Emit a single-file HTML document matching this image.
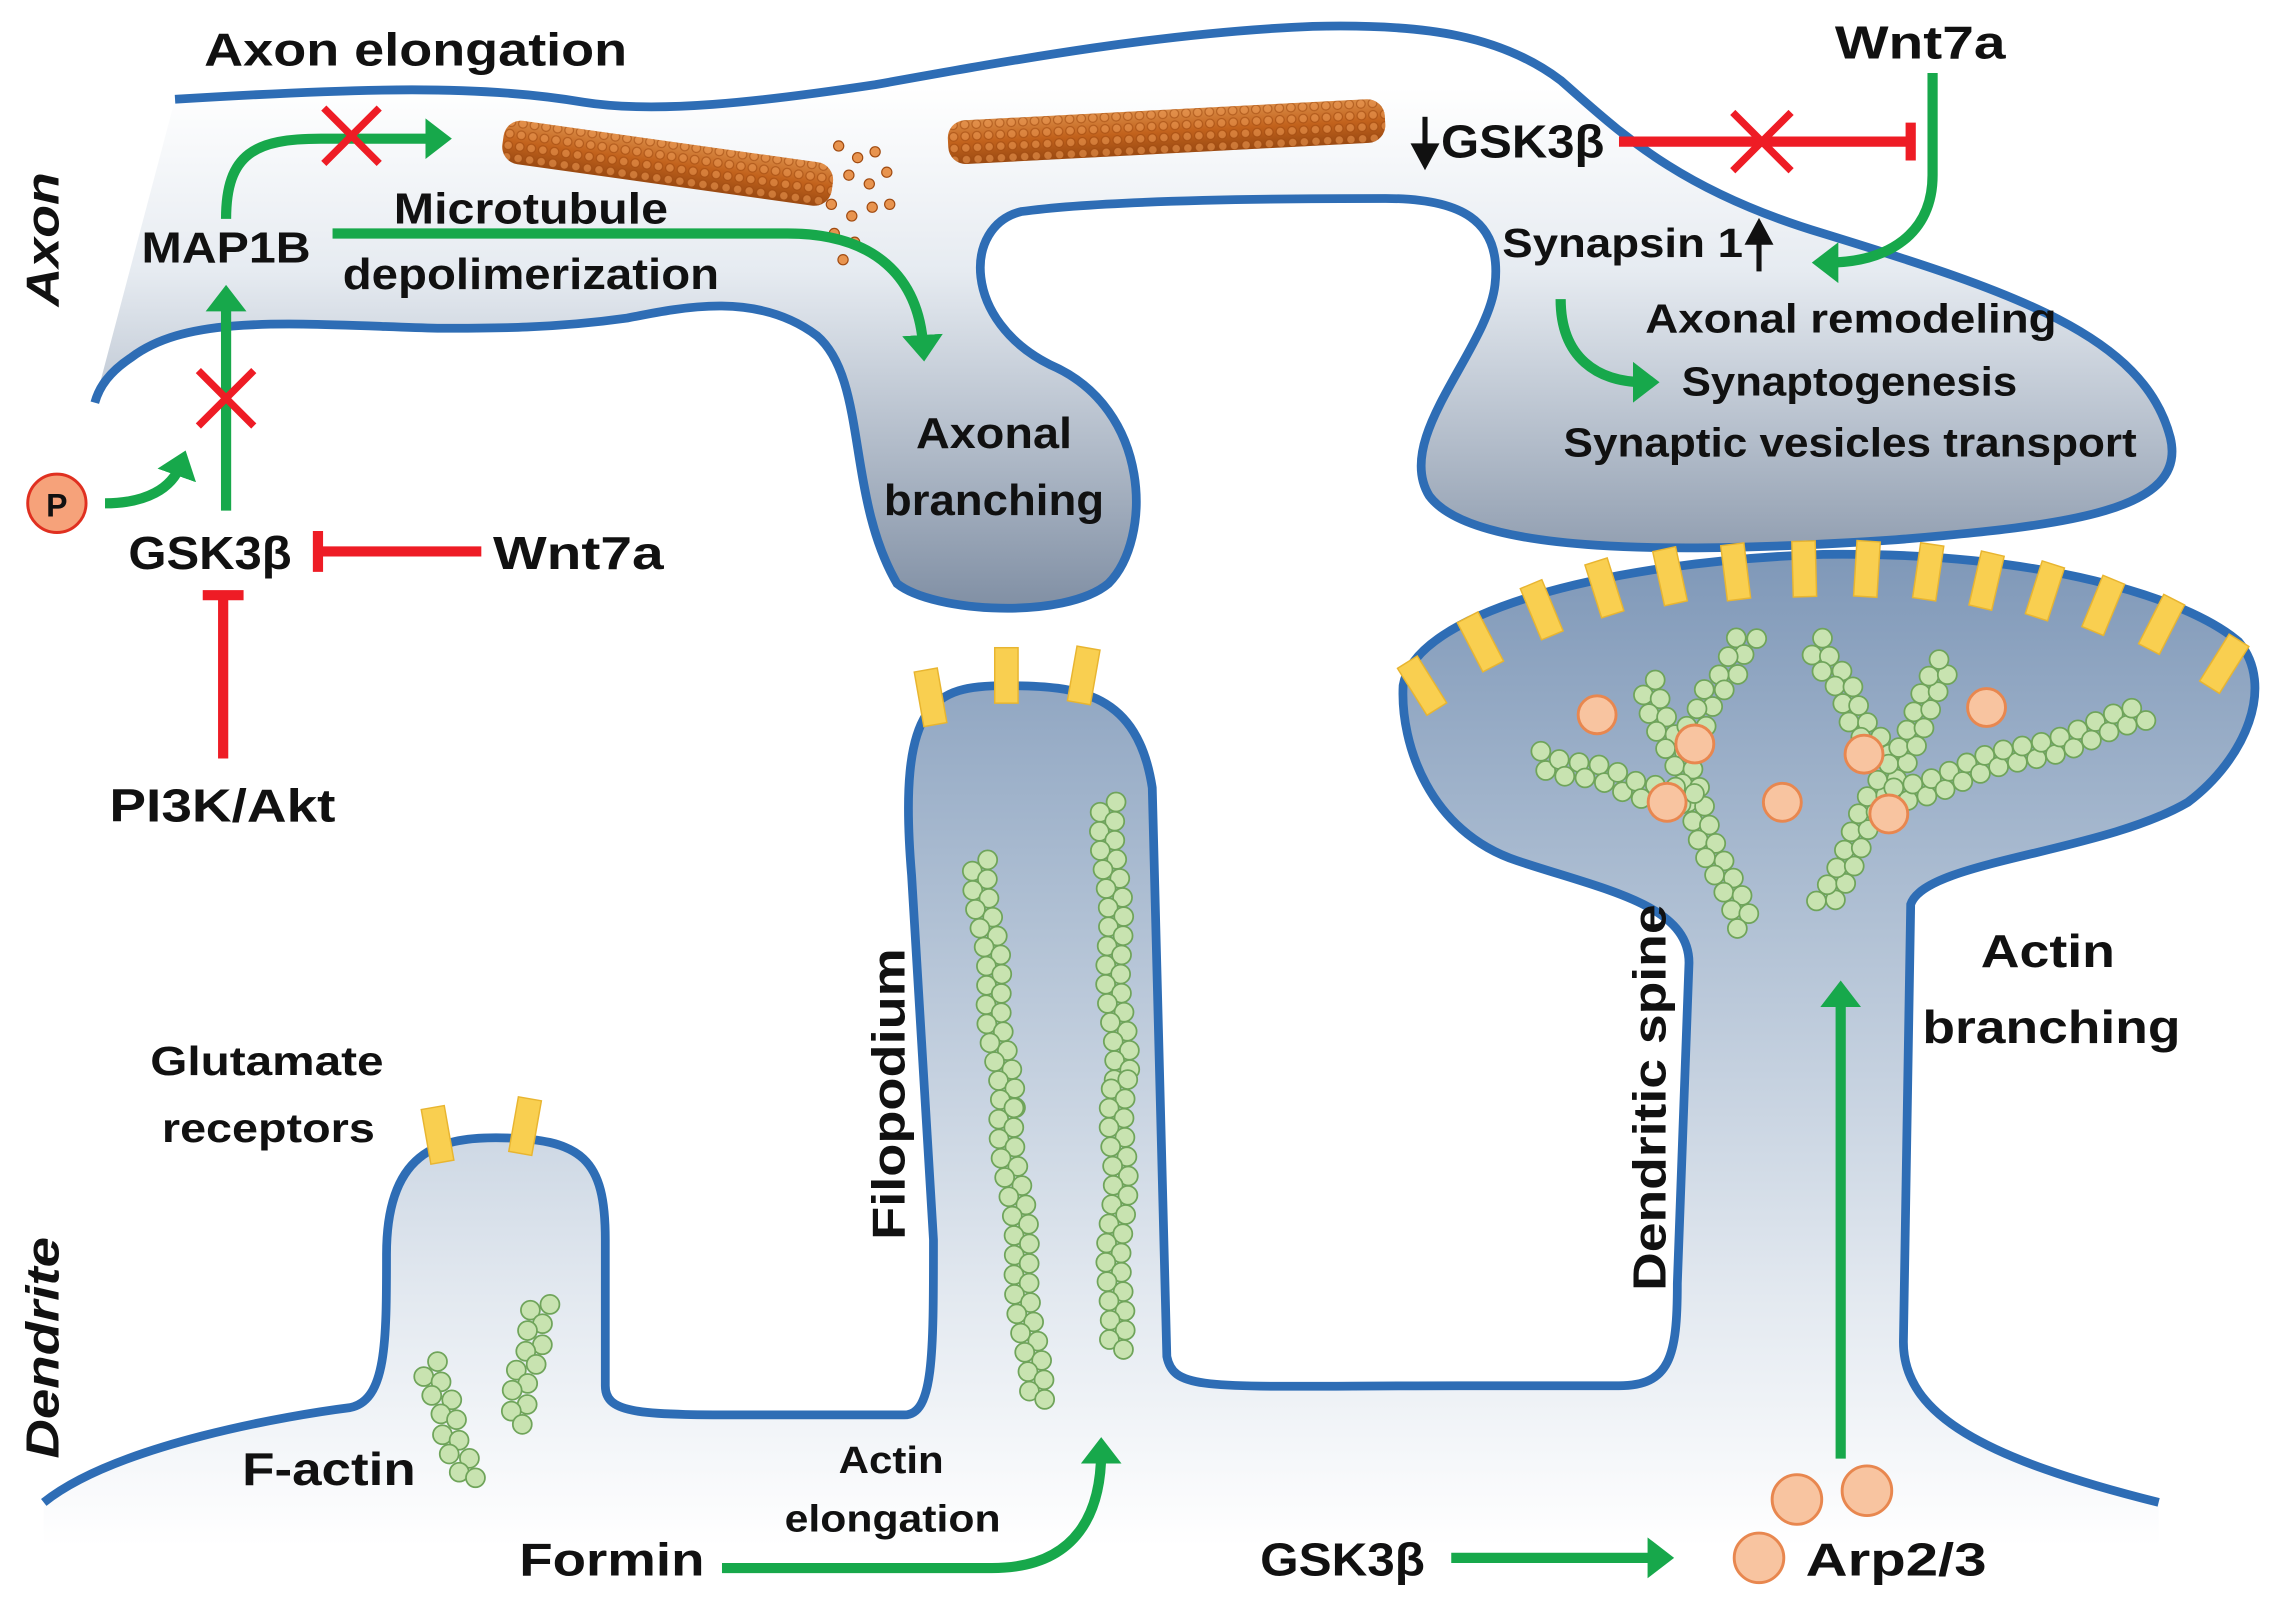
<!DOCTYPE html>
<html><head><meta charset="utf-8"><style>
html,body{margin:0;padding:0;background:#fff}
svg{display:block}
text{font-family:"Liberation Sans","DejaVu Sans",sans-serif;font-weight:bold;fill:#111}
</style></head><body>
<svg id="s" width="2287" height="1609" viewBox="0 0 1568 1103" xmlns="http://www.w3.org/2000/svg">
<defs>
<linearGradient id="ga" x1="0" y1="60" x2="0" y2="420" gradientUnits="userSpaceOnUse">
<stop offset="0" stop-color="#ffffff"/><stop offset="0.35" stop-color="#e6ebf1"/><stop offset="1" stop-color="#7f8ea3"/></linearGradient>
<linearGradient id="gd" x1="0" y1="380" x2="0" y2="1060" gradientUnits="userSpaceOnUse">
<stop offset="0" stop-color="#7f98b8"/><stop offset="0.3" stop-color="#a7b9cf"/><stop offset="0.75" stop-color="#e3e9f0"/><stop offset="1" stop-color="#ffffff"/></linearGradient>
<linearGradient id="gm" x1="0" y1="0" x2="0" y2="1">
<stop offset="0" stop-color="#d98a45"/><stop offset="0.5" stop-color="#c2621c"/><stop offset="1" stop-color="#9a4a12"/></linearGradient>
<pattern id="pm" width="8" height="8" patternUnits="userSpaceOnUse"><circle cx="4" cy="4" r="3" fill="#e8944f" stroke="#a04a10" stroke-width="0.8"/></pattern>
<marker id="ag" markerWidth="4" markerHeight="4" refX="1.2" refY="2" orient="auto" markerUnits="strokeWidth"><path d="M0,0 L2.6,2 L0,4 Z" fill="#17a84b"/></marker>
</defs>
<path id="ax" d="M120,68 C250,60 330,58 400,70 C450,78 520,70 600,58 C700,40 800,22 900,18 C980,16 1030,25 1070,55 C1110,90 1150,130 1250,160 C1380,200 1470,230 1488,300 C1500,350 1420,360 1300,370 C1150,380 1010,380 980,340 C955,300 1020,240 1025,195 C1030,150 1000,136 950,136 C850,136 750,138 700,145 C660,155 660,220 720,250 C790,280 790,370 760,400 C730,425 640,420 615,400 C580,340 595,260 560,230 C520,200 470,210 430,218 C380,225 340,225 300,225 C200,222 130,215 90,245 C75,255 68,265 65,276 Z" fill="url(#ga)"/>
<path d="M120,68 C250,60 330,58 400,70 C450,78 520,70 600,58 C700,40 800,22 900,18 C980,16 1030,25 1070,55 C1110,90 1150,130 1250,160 C1380,200 1470,230 1488,300 C1500,350 1420,360 1300,370 C1150,380 1010,380 980,340 C955,300 1020,240 1025,195 C1030,150 1000,136 950,136 C850,136 750,138 700,145 C660,155 660,220 720,250 C790,280 790,370 760,400 C730,425 640,420 615,400 C580,340 595,260 560,230 C520,200 470,210 430,218 C380,225 340,225 300,225 C200,222 130,215 90,245 C75,255 68,265 65,276" fill="none" stroke="#2e6db5" stroke-width="6"/>
<path d="M30,1030 C80,990 200,970 240,965 C265,960 265,920 265,860 C265,790 300,780 340,780 C400,780 415,795 415,850 L415,950 C415,970 440,970 520,970 L620,970 C640,970 640,930 640,850 L625,600 C615,480 640,470 690,470 C740,470 780,475 790,540 L800,930 C805,955 830,950 1000,950 L1110,950 C1145,950 1150,930 1150,880 L1158,660 C1158,620 1100,610 1040,590 C980,570 960,510 962,470 C970,420 1100,385 1250,380 C1400,378 1500,410 1535,440 C1560,470 1540,520 1500,550 C1440,585 1320,590 1310,620 L1305,920 C1305,970 1360,1000 1480,1030 L1480,1100 L30,1100 Z" fill="url(#gd)"/>
<path d="M30,1030 C80,990 200,970 240,965 C265,960 265,920 265,860 C265,790 300,780 340,780 C400,780 415,795 415,850 L415,950 C415,970 440,970 520,970 L620,970 C640,970 640,930 640,850 L625,600 C615,480 640,470 690,470 C740,470 780,475 790,540 L800,930 C805,955 830,950 1000,950 L1110,950 C1145,950 1150,930 1150,880 L1158,660 C1158,620 1100,610 1040,590 C980,570 960,510 962,470 C970,420 1100,385 1250,380 C1400,378 1500,410 1535,440 C1560,470 1540,520 1500,550 C1440,585 1320,590 1310,620 L1305,920 C1305,970 1360,1000 1480,1030" fill="none" stroke="#2e6db5" stroke-width="6"/>
<g id="rec" fill="#f9cf50" stroke="#e8b530" stroke-width="1"></g>
<g transform="translate(345,95) rotate(8)"><rect x="0" y="-14" width="228" height="30" rx="12" fill="url(#gm)"/><rect x="0" y="-14" width="228" height="30" rx="12" fill="url(#pm)" opacity="0.6"/></g>
<g transform="translate(650,98) rotate(-3)"><rect x="0" y="-15" width="300" height="30" rx="12" fill="url(#gm)"/><rect x="0" y="-15" width="300" height="30" rx="12" fill="url(#pm)" opacity="0.6"/></g>
<g id="dots" fill="#e8944f" stroke="#a04a10" stroke-width="0.8"></g>
<g id="actin" fill="#c8e3b0" stroke="#6fa45a" stroke-width="1.2"></g>
<g fill="#f8c4a0" stroke="#e8874f" stroke-width="2">
<circle cx="1095" cy="490" r="13"/><circle cx="1162" cy="510" r="13"/><circle cx="1143" cy="550" r="13"/><circle cx="1222" cy="550" r="13"/><circle cx="1278" cy="517" r="13"/><circle cx="1295" cy="558" r="13"/><circle cx="1362" cy="485" r="13"/>
<circle cx="1232" cy="1028" r="17"/><circle cx="1280" cy="1022" r="17"/><circle cx="1206" cy="1068" r="17"/>
<circle cx="39" cy="345" r="20" fill="#f6a27a" stroke="#e03020"/>
</g>
<text x="39" y="354" font-size="22" text-anchor="middle">P</text>
<g fill="none" stroke="#17a84b" stroke-width="7" marker-end="url(#ag)">
<path d="M155,150 C155,105 175,95 220,95 L300,95"/>
<path d="M155,350 L155,205"/>
<path d="M72,345 C100,345 118,335 124,318"/>
<path d="M228,160 L540,160 C600,160 630,190 633,238"/>
<path d="M1325,50 L1325,120 C1325,160 1295,180 1252,180"/>
<path d="M1070,205 C1070,245 1095,262 1128,262"/>
<path d="M495,1075 L680,1075 C740,1075 755,1035 755,995"/>
<path d="M995,1068 L1138,1068"/>
<path d="M1262,1000 L1262,682"/>
</g>
<g stroke="#ee1c25" stroke-width="7" fill="none">
<path d="M330,378 L220,378 M218,364 L218,392"/>
<path d="M153,520 L153,410 M139,408 L167,408"/>
<path d="M1110,97 L1310,97 M1310,84 L1310,110"/>
</g>
<g stroke="#ee1c25" stroke-width="5">
<path d="M1188,77 L1228,117 M1228,77 L1188,117"/>
<path d="M222,74 L260,112 M260,74 L222,112"/>
<path d="M136,254 L174,292 M174,254 L136,292"/>
</g>
<g stroke="#111" stroke-width="3.5" fill="#111">
<path d="M977,80 L977,106"/><path d="M970,100 L977,113 L984,100 Z"/>
<path d="M1206,186 L1206,160"/><path d="M1199,166 L1206,153 L1213,166 Z"/>
</g>
<g>
<text x="140" y="45" font-size="32" textLength="290" lengthAdjust="spacingAndGlyphs">Axon elongation</text>
<text x="1258" y="40" font-size="32" textLength="117" lengthAdjust="spacingAndGlyphs">Wnt7a</text>
<text x="988" y="108" font-size="32" textLength="112" lengthAdjust="spacingAndGlyphs">GSK3β</text>
<text x="1030" y="176" font-size="28" textLength="165" lengthAdjust="spacingAndGlyphs">Synapsin 1</text>
<text x="1128" y="228" font-size="28" textLength="282" lengthAdjust="spacingAndGlyphs">Axonal remodeling</text>
<text x="1153" y="271" font-size="28" textLength="230" lengthAdjust="spacingAndGlyphs">Synaptogenesis</text>
<text x="1072" y="313" font-size="28" textLength="393" lengthAdjust="spacingAndGlyphs">Synaptic vesicles transport</text>
<text x="270" y="153" font-size="30" textLength="188" lengthAdjust="spacingAndGlyphs">Microtubule</text>
<text x="235" y="198" font-size="30" textLength="258" lengthAdjust="spacingAndGlyphs">depolimerization</text>
<text x="97" y="180" font-size="30" textLength="116" lengthAdjust="spacingAndGlyphs">MAP1B</text>
<text x="628" y="307" font-size="30" textLength="107" lengthAdjust="spacingAndGlyphs">Axonal</text>
<text x="606" y="353" font-size="30" textLength="151" lengthAdjust="spacingAndGlyphs">branching</text>
<text x="88" y="390" font-size="32" textLength="112" lengthAdjust="spacingAndGlyphs">GSK3β</text>
<text x="338" y="390" font-size="32" textLength="117" lengthAdjust="spacingAndGlyphs">Wnt7a</text>
<text x="75" y="563" font-size="32" textLength="155" lengthAdjust="spacingAndGlyphs">PI3K/Akt</text>
<text x="103" y="737" font-size="28" textLength="160" lengthAdjust="spacingAndGlyphs">Glutamate</text>
<text x="111" y="783" font-size="28" textLength="146" lengthAdjust="spacingAndGlyphs">receptors</text>
<text x="166" y="1018" font-size="32" textLength="119" lengthAdjust="spacingAndGlyphs">F-actin</text>
<text x="575" y="1010" font-size="26" textLength="72" lengthAdjust="spacingAndGlyphs">Actin</text>
<text x="538" y="1050" font-size="26" textLength="148" lengthAdjust="spacingAndGlyphs">elongation</text>
<text x="356" y="1080" font-size="32" textLength="127" lengthAdjust="spacingAndGlyphs">Formin</text>
<text x="864" y="1080" font-size="32" textLength="113" lengthAdjust="spacingAndGlyphs">GSK3β</text>
<text x="1238" y="1080" font-size="32" textLength="124" lengthAdjust="spacingAndGlyphs">Arp2/3</text>
<text x="1358" y="663" font-size="32" textLength="92" lengthAdjust="spacingAndGlyphs">Actin</text>
<text x="1318" y="715" font-size="32" textLength="177" lengthAdjust="spacingAndGlyphs">branching</text>
<text transform="translate(40,210) rotate(-90)" font-size="32" font-style="italic" textLength="92" lengthAdjust="spacingAndGlyphs">Axon</text>
<text transform="translate(40,1000) rotate(-90)" font-size="32" font-style="italic" textLength="152" lengthAdjust="spacingAndGlyphs">Dendrite</text>
<text transform="translate(620,850) rotate(-90)" font-size="32" textLength="200" lengthAdjust="spacingAndGlyphs">Filopodium</text>
<text transform="translate(1142,885) rotate(-90)" font-size="32" textLength="265" lengthAdjust="spacingAndGlyphs">Dendritic spine</text>
</g>
</svg>
<script>
var NS="http://www.w3.org/2000/svg";
function el(g,t,a){var e=document.createElementNS(NS,t);for(var k in a)e.setAttribute(k,a[k]);document.getElementById(g).appendChild(e);return e;}
[[975,470],[1015,440],[1057,418],[1100,403],[1145,395],[1190,392],[1237,390],[1280,390],[1322,392],[1362,398],[1402,405],[1442,415],[1482,428],[1525,455],[638,478],[690,463],[743,463],[300,778],[360,772]].forEach(function(p,i){
 var ang=0;
 if(i<14){ang=(p[0]-1250)/300*35;}
 if(i==14)ang=-10; if(i==16)ang=10; if(i==17)ang=-10; if(i==18)ang=10;
 el("rec","rect",{x:p[0]-8,y:p[1]-19,width:16,height:38,transform:"rotate("+ang+" "+p[0]+" "+p[1]+")"});
});
function chain(x1,y1,x2,y2,r){r=r||6.5;var dx=x2-x1,dy=y2-y1,L=Math.sqrt(dx*dx+dy*dy),n=Math.floor(L/(r*1.0));var nx=-dy/L,ny=dx/L;
 for(var i=0;i<=n;i++){var t=i/n,s=(i%2?1:-1)*r*0.8,w=Math.sin(t*12)*2;
 el("actin","circle",{cx:x1+dx*t+nx*(s+w),cy:y1+dy*t+ny*(s+w),r:r});}}
chain(672,590,690,760);chain(690,760,710,960);
chain(760,550,768,740);chain(768,740,764,925);
chain(295,935,320,1015);chain(372,893,352,975);
chain(1130,468,1195,635);chain(1055,520,1160,550);chain(1200,435,1160,500);
chain(1245,440,1290,520);chain(1250,620,1335,455);chain(1300,545,1470,490);
[[575,100],[588,108],[600,104],[582,120],[596,126],[608,118],[570,140],[584,148],[598,142],[572,160],[586,166],[578,178],[610,140]].forEach(function(p){el("dots","circle",{cx:p[0],cy:p[1],r:3.5});});
</script>
</body></html>
